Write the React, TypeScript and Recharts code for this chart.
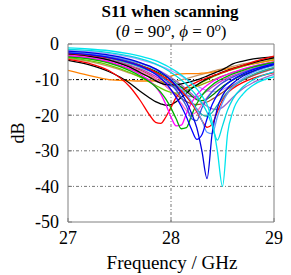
import React from 'react';
import { LineChart, Line, XAxis, YAxis, CartesianGrid, ReferenceLine } from 'recharts';

const freqGHz = [27.0, 27.2, 27.4, 27.6, 27.7, 27.8, 27.85, 27.9, 27.95, 28.0, 28.05, 28.1, 28.15, 28.2, 28.25, 28.3, 28.35, 28.4, 28.45, 28.5, 28.55, 28.6, 28.7, 28.8, 29.0];

const xTicks = [27, 28, 29];
const yTicks = [0, -10, -20, -30, -40, -50];

const tan = [-4.0, -4.9, -6.3, -8.2, -9.2, -10.1, -10.5, -10.8, -10.9, -10.8, -10.5, -10.1, -9.7, -9.3, -8.9, -8.5, -8.1, -7.7, -7.3, -7.0, -6.6, -6.3, -5.6, -5.0, -4.0];
const lavender = [-1.8, -2.1, -2.7, -3.7, -4.4, -5.2, -5.7, -6.2, -6.8, -7.5, -8.2, -9.0, -9.9, -10.8, -11.7, -12.5, -13.1, -13.4, -13.3, -12.8, -12.1, -11.4, -10.0, -8.9, -7.0];
const olive = [-3.5, -4.1, -5.2, -7.0, -8.1, -9.3, -9.9, -10.5, -11.0, -11.5, -11.9, -12.2, -12.3, -12.2, -11.9, -11.4, -10.8, -10.2, -9.6, -9.0, -8.5, -8.0, -7.1, -6.3, -5.0];
const greenB = [-3.8, -4.6, -5.9, -8.0, -9.3, -10.8, -11.6, -12.4, -13.1, -13.6, -13.8, -13.6, -13.1, -12.4, -11.6, -10.8, -10.0, -9.3, -8.7, -8.1, -7.6, -7.1, -6.3, -5.6, -4.4];
const orange = [-7.4, -8.8, -10.0, -10.3, -10.4, -10.4, -10.3, -10.0, -9.5, -9.0, -8.6, -8.4, -8.3, -8.3, -8.3, -8.2, -8.1, -7.9, -7.6, -7.3, -7.0, -6.7, -6.1, -5.5, -4.5];
const magentaB = [-2.9, -3.4, -4.3, -5.9, -7.0, -8.3, -9.1, -9.9, -10.8, -11.7, -12.6, -13.5, -14.3, -14.8, -14.8, -14.2, -13.2, -12.1, -11.1, -10.2, -9.5, -8.9, -7.8, -6.9, -5.4];
const darkGreen = [-2.4, -2.9, -3.7, -5.0, -5.9, -7.0, -7.6, -8.3, -9.1, -10.0, -11.0, -12.1, -13.3, -14.6, -15.6, -15.9, -15.4, -14.4, -13.2, -12.0, -11.0, -10.1, -8.7, -7.6, -6.0];
const brown = [-3.0, -3.6, -4.6, -6.2, -7.3, -8.8, -9.7, -10.7, -11.8, -13.0, -14.2, -15.3, -16.2, -16.8, -17.0, -16.8, -16.3, -15.5, -14.6, -13.6, -12.6, -11.7, -10.1, -8.8, -6.8];
const purple = [-2.3, -2.7, -3.4, -4.6, -5.4, -6.4, -7.0, -7.7, -8.5, -9.4, -10.4, -11.5, -12.7, -14.0, -15.3, -16.5, -17.5, -18.2, -18.4, -17.8, -16.5, -15.0, -12.5, -10.8, -8.5];
const teal = [-2.7, -3.2, -4.0, -5.5, -6.5, -7.7, -8.4, -9.2, -10.1, -11.1, -12.2, -13.4, -14.8, -16.4, -18.2, -19.8, -20.3, -19.2, -17.2, -15.2, -13.5, -12.1, -10.0, -8.5, -6.6];
const pink = [-3.1, -3.7, -4.7, -6.4, -7.6, -9.0, -9.8, -10.8, -11.9, -13.2, -14.8, -16.7, -18.7, -19.8, -19.0, -17.0, -15.0, -13.3, -12.0, -10.9, -10.0, -9.2, -8.0, -7.0, -5.6];
const blackA = [-4.6, -5.8, -7.8, -11.0, -13.3, -15.3, -16.2, -16.8, -17.2, -17.0, -16.2, -15.0, -13.8, -12.5, -11.5, -10.6, -9.8, -9.1, -8.5, -7.9, -7.4, -6.9, -6.0, -5.2, -3.9];
const blackB = [-2.8, -3.4, -4.5, -6.5, -8.0, -9.5, -10.3, -11.0, -11.4, -11.5, -11.4, -11.2, -10.9, -10.5, -10.1, -9.6, -9.0, -8.4, -7.8, -7.2, -6.4, -5.6, -4.8, -4.2, -3.6];
const redA = [-4.3, -5.4, -7.5, -12.0, -15.8, -20.3, -22.0, -22.3, -20.5, -17.8, -15.0, -13.3, -12.2, -11.4, -10.7, -10.1, -9.5, -9.0, -8.5, -8.0, -7.5, -7.0, -6.0, -5.0, -3.4];
const magentaA = [-3.3, -3.9, -5.0, -7.0, -8.5, -10.5, -12.0, -14.0, -17.0, -20.5, -23.0, -22.8, -19.5, -16.5, -14.3, -12.8, -11.6, -10.6, -9.8, -9.1, -8.5, -8.0, -7.0, -6.2, -5.0];
const greenA = [-3.6, -4.2, -5.4, -7.5, -9.0, -10.8, -12.0, -13.5, -15.5, -18.0, -21.0, -23.8, -23.5, -20.0, -16.8, -14.5, -12.8, -11.5, -10.5, -9.7, -9.0, -8.4, -7.4, -6.5, -5.2];
const blueC = [-2.3, -2.8, -3.6, -5.0, -6.0, -7.3, -8.1, -9.0, -10.1, -11.4, -13.0, -15.0, -17.5, -21.0, -21.5, -18.0, -15.3, -13.4, -12.0, -10.9, -10.0, -9.3, -8.0, -7.0, -5.5];
const redB = [-2.6, -3.1, -3.9, -5.2, -6.1, -7.2, -7.9, -8.7, -9.6, -10.6, -11.8, -13.2, -14.8, -16.7, -19.0, -21.5, -23.4, -22.5, -19.0, -15.8, -13.8, -12.5, -10.8, -9.6, -8.0];
const lightBlue = [-2.2, -2.6, -3.3, -4.5, -5.4, -6.5, -7.2, -8.0, -8.9, -10.0, -11.2, -12.6, -14.2, -16.2, -18.6, -21.5, -24.8, -25.2, -20.5, -16.5, -13.8, -12.0, -9.6, -8.0, -6.0];
const blueA = [-2.5, -3.0, -3.8, -5.2, -6.2, -7.6, -8.5, -9.6, -11.0, -12.8, -15.0, -17.5, -20.5, -24.0, -26.8, -25.5, -21.0, -17.0, -14.3, -12.4, -11.0, -10.0, -8.4, -7.2, -5.5];
const cyanA = [-1.5, -1.8, -2.4, -3.4, -4.1, -5.0, -5.6, -6.3, -7.1, -8.0, -9.0, -10.1, -11.4, -12.9, -14.6, -16.6, -19.2, -23.0, -27.0, -23.0, -18.5, -15.5, -12.0, -10.0, -7.8];
const blueB = [-2.0, -2.4, -3.1, -4.3, -5.2, -6.3, -7.0, -7.9, -8.9, -10.2, -11.8, -13.8, -16.3, -19.5, -23.5, -30.0, -37.8, -25.0, -18.0, -14.5, -12.4, -11.0, -9.0, -7.6, -5.8];
const cyanB = [-1.1, -1.4, -1.9, -2.8, -3.4, -4.2, -4.7, -5.3, -6.0, -6.8, -7.7, -8.7, -9.8, -11.1, -12.6, -14.6, -17.0, -22.0, -30.0, -40.0, -25.0, -19.0, -14.0, -11.5, -9.2];

const seriesList: { key: string; values: number[]; color: string }[] = [
  { key: 'tan', values: tan, color: '#c89664' },
  { key: 'lavender', values: lavender, color: '#b399ff' },
  { key: 'olive', values: olive, color: '#a0a000' },
  { key: 'greenB', values: greenB, color: '#66cc00' },
  { key: 'orange', values: orange, color: '#ff8000' },
  { key: 'magentaB', values: magentaB, color: '#cc33cc' },
  { key: 'darkGreen', values: darkGreen, color: '#008000' },
  { key: 'brown', values: brown, color: '#a0522d' },
  { key: 'purple', values: purple, color: '#9966cc' },
  { key: 'teal', values: teal, color: '#20b2aa' },
  { key: 'pink', values: pink, color: '#ff66cc' },
  { key: 'blackA', values: blackA, color: '#000000' },
  { key: 'blackB', values: blackB, color: '#000000' },
  { key: 'redA', values: redA, color: '#ff0000' },
  { key: 'magentaA', values: magentaA, color: '#ff00ff' },
  { key: 'greenA', values: greenA, color: '#00b000' },
  { key: 'blueC', values: blueC, color: '#3355dd' },
  { key: 'redB', values: redB, color: '#ff0000' },
  { key: 'lightBlue', values: lightBlue, color: '#5a9bff' },
  { key: 'blueA', values: blueA, color: '#0000ff' },
  { key: 'cyanA', values: cyanA, color: '#00d8e0' },
  { key: 'blueB', values: blueB, color: '#0000e0' },
  { key: 'cyanB', values: cyanB, color: '#00e5ee' },
];

const rows = freqGHz.map((f, i) => {
  const r: Record<string, number> = { f };
  seriesList.forEach((s) => {
    r[s.key] = s.values[i];
  });
  return r;
});

const serif = 'Liberation Serif, Tinos, DejaVu Serif, serif';
const tickStyle = { fill: '#000', fontSize: 18, fontFamily: serif };

export default function App() {
  return (
    <div style={{ position: 'absolute', left: 0, top: 0, width: 291, height: 275, background: '#fff', fontFamily: serif }}>
      <LineChart width={291} height={275} data={rows} margin={{ top: 44, right: 17, bottom: 0, left: 8 }} style={{ fontFamily: serif }}>
        <CartesianGrid horizontalValues={[-20, -30, -40]} verticalValues={[28]} stroke="#777" strokeDasharray="3 2 1 2" />
        <XAxis
          dataKey="f"
          type="number"
          domain={[27, 29]}
          ticks={xTicks}
          height={53}
          stroke="#808080"
          tickSize={-4}
          tickMargin={13}
          tick={tickStyle}
          allowDataOverflow
        />
        <YAxis
          type="number"
          domain={[-50, 0]}
          ticks={yTicks}
          width={60}
          stroke="#808080"
          tickSize={-4}
          tickMargin={13}
          tick={tickStyle}
          allowDataOverflow
        />
        <ReferenceLine y={-10} stroke="#000" strokeDasharray="3 2 1 2" />
        <ReferenceLine y={0} stroke="#808080" />
        <ReferenceLine x={29} stroke="#808080" />
        {seriesList.map((s) => (
          <Line
            key={s.key}
            dataKey={s.key}
            type="monotone"
            stroke={s.color}
            strokeWidth={1.3}
            dot={false}
            isAnimationActive={false}
          />
        ))}
      </LineChart>
      <div style={{ position: 'absolute', left: 20, top: 2, width: 300, textAlign: 'center', fontSize: 17, lineHeight: '20px', fontWeight: 'bold', fontFamily: serif }}>
        S11 when scanning
      </div>
      <div style={{ position: 'absolute', left: 21, top: 22, width: 300, textAlign: 'center', fontSize: 17, lineHeight: '20px', fontFamily: serif }}>
        (<i>θ</i> = 90<span style={{ fontSize: '0.7em', position: 'relative', top: '-0.5em', fontStyle: 'italic' }}>o</span>, <i>ϕ</i> = 0<span style={{ fontSize: '0.7em', position: 'relative', top: '-0.5em', fontStyle: 'italic' }}>o</span>)
      </div>
      <div style={{ position: 'absolute', left: 22, top: 252, width: 300, textAlign: 'center', fontSize: 19, lineHeight: '22px', fontFamily: serif }}>
        Frequency / GHz
      </div>
      <div style={{ position: 'absolute', left: 18, top: 133, fontSize: 18, lineHeight: '20px', transform: 'translate(-50%, -50%) rotate(-90deg)', whiteSpace: 'nowrap', fontFamily: serif }}>
        dB
      </div>
    </div>
  );
}
